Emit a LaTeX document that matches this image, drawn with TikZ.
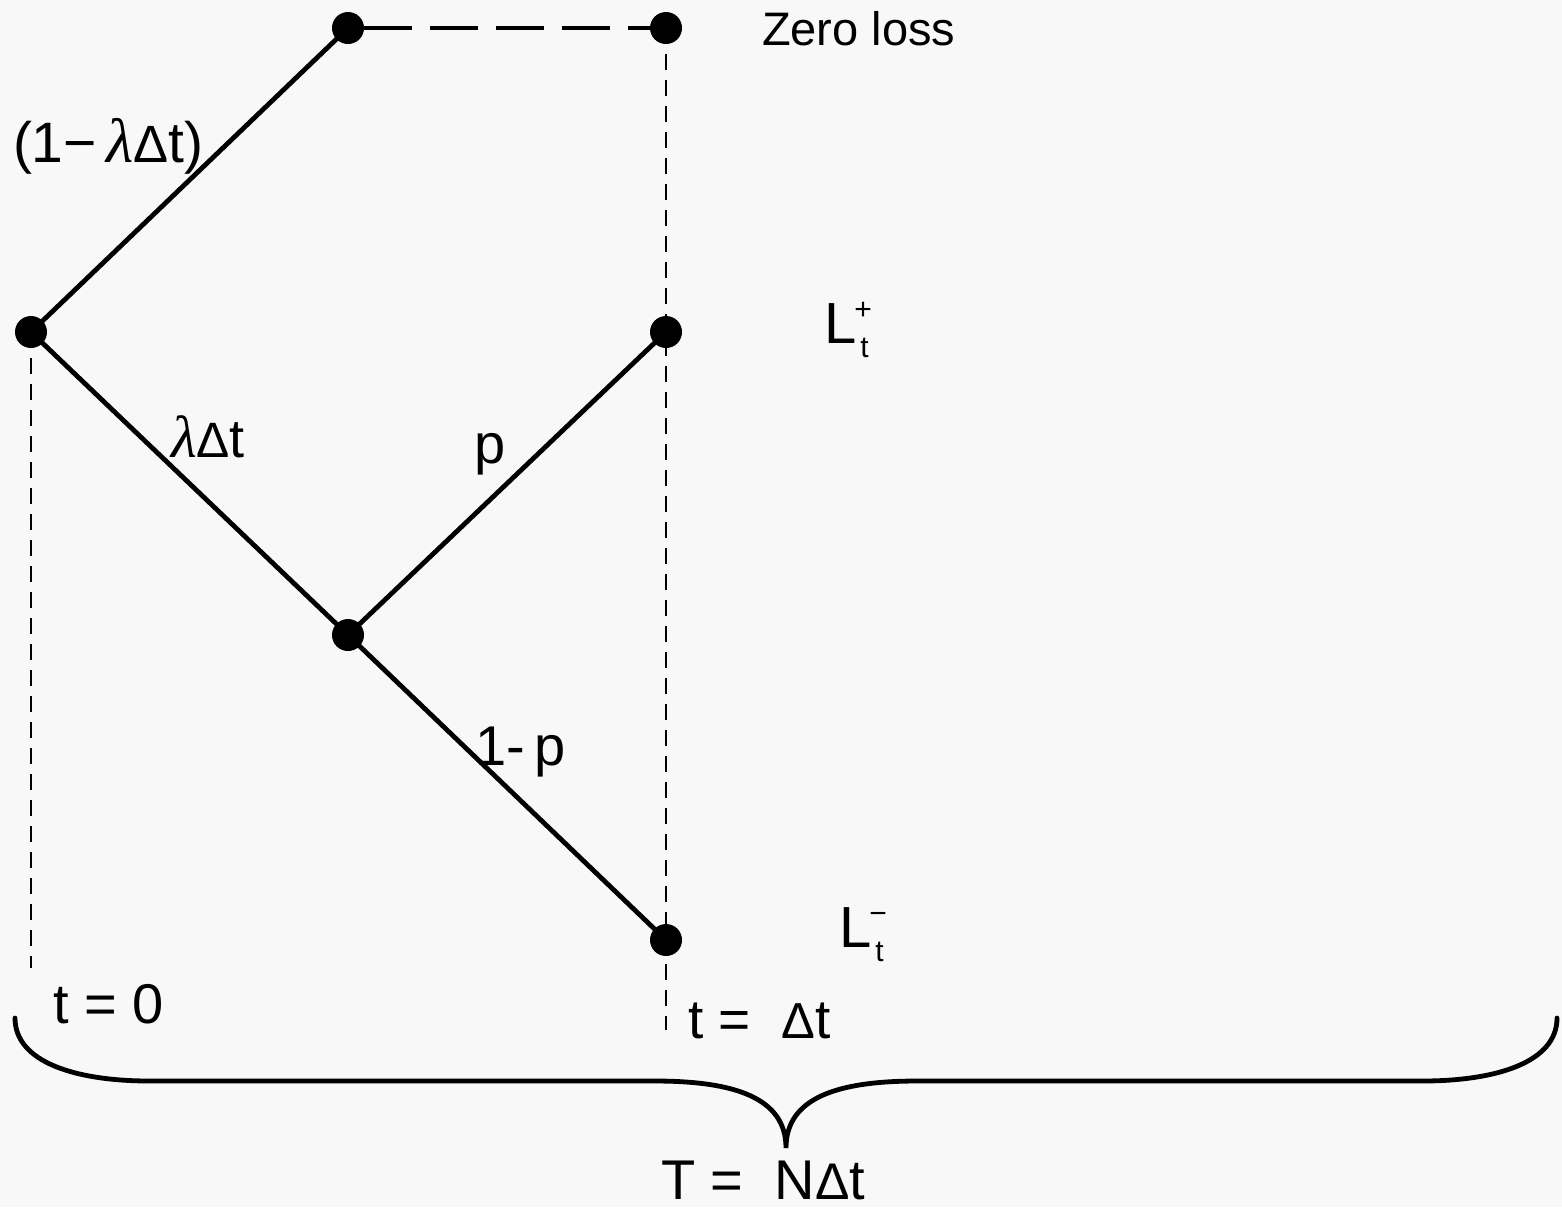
\documentclass[tikz,border=0pt]{standalone}
\usepackage{fontspec}
\usepackage{graphicx}
\setmainfont{Liberation Sans}
\newfontfamily\serifgr{Liberation Serif}
\definecolor{bgc}{HTML}{F8F8F8}
\newcommand{\lam}{{\serifgr\itshape\scalebox{1.1}{λ}}}
\newcommand{\dlt}{\scalebox{0.92}{Δ}}
\newcommand{\fsz}[1]{\fontsize{#1}{#1}\selectfont}
\begin{document}
\begin{tikzpicture}[x=0.5pt,y=-0.5pt,
  dot/.style={circle,fill=black,draw=none,minimum size=16pt,inner sep=0pt},
  edge/.style={line width=2.4pt},
  longdash/.style={line width=2.4pt,dash pattern=on 24pt off 9pt},
  thindash/.style={line width=1.4pt,dash pattern=on 8pt off 5pt},
  lbl/.style={anchor=base west,inner sep=0pt,outer sep=0pt},
  brace/.style={line width=2.4pt,line cap=round}]
\fill[bgc] (0,0) rectangle (1562,1207);
\useasboundingbox (0,0) rectangle (1562,1207);
% coordinates
\coordinate (A) at (31,332);
\coordinate (B) at (348,28);
\coordinate (C) at (666,28);
\coordinate (D) at (666,332);
\coordinate (E) at (348,635);
\coordinate (F) at (666,940);
\coordinate (a0) at (31,968);
\coordinate (c0) at (666,1030);
% dashed verticals
\draw[thindash] (A) -- (a0);
\draw[thindash] (C) -- (c0);
% edges
\draw[edge] (A) -- (B);
\draw[edge] (A) -- (E);
\draw[edge] (E) -- (D);
\draw[edge] (E) -- (F);
% dots
\node[dot] (nA) at (A) {};
\node[dot] (nB) at (B) {};
\node[dot] (nC) at (C) {};
\node[dot] (nD) at (D) {};
\node[dot] (nE) at (E) {};
\node[dot] (nF) at (F) {};
\draw[longdash] (nB.east) -- (nC.west);
% brace
\coordinate (bl) at (15,1018);
\coordinate (br) at (1557,1018);
\coordinate (bt) at (786,1148);
\draw[brace] (bl) .. controls (15,1062) and (75,1081) .. (150,1081) -- (655,1081)
  .. controls (735,1081) and (786,1098) .. (bt)
  .. controls (786,1098) and (837,1081) .. (917,1081) -- (1422,1081)
  .. controls (1497,1081) and (1557,1062) .. (br);
% labels
\node[lbl] (zl) at (762,45) {\fsz{23.5pt}Zero loss};
\node[lbl] (l1) at (13,162) {\fsz{28.5pt}(1−\,\lam\dlt t)};
\node[lbl] (lp) at (824,343) {\fsz{29pt}L\kern-1pt\rlap{\raisebox{12pt}{\fsz{15pt}+}}\raisebox{-7pt}{\kern3pt\fsz{15pt}t}};
\node[lbl] (lm) at (839,947) {\fsz{29pt}L\kern-1pt\rlap{\raisebox{12pt}{\fsz{15pt}−}}\raisebox{-7pt}{\kern3pt\fsz{15pt}t}};
\node[lbl] (ldt) at (171,457) {\fsz{27pt}\lam\dlt t};
\node[lbl] (lpp) at (474,463) {\fsz{28pt}p};
\node[lbl] (l1p) at (475,765) {\fsz{28pt}1-\,p};
\node[lbl] (t0) at (53,1023) {\fsz{28pt}t = 0};
\node[lbl] (t1) at (688,1038) {\fsz{27.5pt}t =\ \ \dlt t};
\node[lbl] (tt) at (661,1199) {\fsz{28pt}T =\ \ N\dlt t};
\end{tikzpicture}
\end{document}
